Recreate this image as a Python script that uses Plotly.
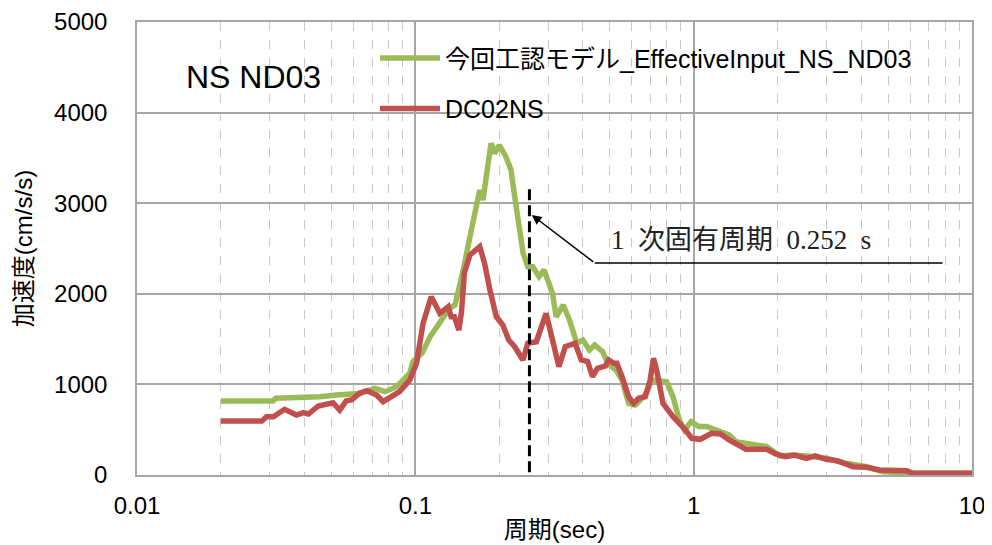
import plotly.graph_objects as go
import math

# 今回工認モデル (green)
green_t = [0.02, 0.0308, 0.0315, 0.04, 0.0454, 0.0521, 0.063, 0.0717, 0.0779, 0.0856, 0.0955,
           0.098, 0.106, 0.113, 0.1194, 0.1328, 0.1388, 0.1403, 0.1487, 0.1571, 0.1655, 0.1704,
           0.175, 0.180, 0.187, 0.1927, 0.2003, 0.2115, 0.2207, 0.2275, 0.238, 0.244, 0.2537,
           0.2643, 0.2784, 0.2901, 0.311, 0.3206, 0.340, 0.358, 0.3803, 0.3996, 0.4224, 0.441,
           0.471, 0.4907, 0.5258, 0.5529, 0.584, 0.6178, 0.670, 0.7086, 0.7995, 0.8428, 0.888,
           0.926, 0.9796, 1.045, 1.115, 1.23, 1.34, 1.42, 1.54, 1.83, 2.04, 2.25, 2.54, 3.0,
           3.53, 4.18, 4.78, 6.13, 10.0]
green_v = [817, 817, 847, 850, 864, 883, 900, 957, 920, 975, 1124,
           1250, 1350, 1527, 1637, 1840, 1876, 1932, 2263, 2630, 2999, 3146,
           3035, 3330, 3661, 3551, 3642, 3514, 3366, 3072, 2594, 2447, 2299,
           2299, 2189, 2263, 2005, 1747, 1876, 1711, 1454, 1490, 1380, 1435,
           1361, 1233, 1159, 1049, 791, 773, 883, 1049, 1030, 864, 607,
           497, 589, 534, 534, 479, 442, 368, 350, 313, 210, 221, 210, 184,
           129, 92, 37, 18, 18]

# DC02NS (red)
red_t = [0.02, 0.0281, 0.0292, 0.0309, 0.0339, 0.0374, 0.0396, 0.0413, 0.0448, 0.0493, 0.0506,
         0.0535, 0.0565, 0.059, 0.063, 0.0669, 0.0726, 0.0766, 0.082, 0.0878, 0.0955, 0.101,
         0.1066, 0.114, 0.1225, 0.1313, 0.1345, 0.138, 0.1434, 0.1465, 0.150, 0.1571, 0.1704,
         0.1773, 0.1853, 0.1954, 0.2061, 0.2166, 0.2275, 0.2436, 0.2537, 0.2721, 0.295, 0.311,
         0.328, 0.3457, 0.365, 0.375, 0.3946, 0.416, 0.4331, 0.4511, 0.4821, 0.4953, 0.5162,
         0.530, 0.5529, 0.584, 0.608, 0.634, 0.670, 0.698, 0.717, 0.736, 0.776, 0.843, 0.9349,
         0.985, 1.056, 1.16, 1.25, 1.34, 1.54, 1.83, 1.97, 2.14, 2.3, 2.54, 2.73, 3.0, 3.27,
         3.74, 4.18, 4.65, 5.82, 6.13, 10.0]
red_v = [596, 596, 643, 643, 725, 662, 688, 673, 762, 784, 798,
         717, 820, 828, 902, 931, 883, 809, 857, 920, 1049, 1233,
         1674, 1968, 1784, 1858, 1747, 1747, 1600, 1800, 2230, 2428, 2520,
         2337, 2042, 1747, 1656, 1490, 1416, 1269, 1454, 1471, 1784, 1490,
         1195, 1416, 1435, 1454, 1269, 1251, 1085, 1177, 1203, 1269, 1233,
         1233, 1085, 864, 791, 846, 864, 1049, 1288, 1159, 791, 643, 497,
         405, 394, 460, 452, 386, 284, 284, 232, 202, 221, 184, 210, 173, 158,
         92, 85, 55, 47, 18, 18]

period_mark = 0.257
period_y = [30, 3180]
note_text = "1\u2002次固有周期\u20020.252\u2002s"

x_ticks = [0.01, 0.1, 1, 10]
x_ticktext = ["0.01", "0.1", "1", "10"]
minor_vals = [m * 10 ** e for e in range(-2, 1) for m in range(2, 10)]

fnt = "Liberation Sans, Arial, Noto Sans CJK JP"

fig = go.Figure()
fig.add_trace(go.Scatter(x=green_t, y=green_v, mode="lines", name="今回工認モデル_EffectiveInput_NS_ND03",
                         line=dict(color="#9BBB59", width=5.5), legendgroup="g"))
fig.add_trace(go.Scatter(x=red_t, y=red_v, mode="lines", name="DC02NS",
                         line=dict(color="#C0504D", width=5.5), legendgroup="r"))
# 1次固有周期 line
fig.add_trace(go.Scatter(x=[period_mark, period_mark], y=period_y, mode="lines", showlegend=False,
                         line=dict(color="black", width=3, dash="11px,5px")))
# leader line under label
fig.add_trace(go.Scatter(x=[0.4413, 7.84], y=[2340, 2340], mode="lines", showlegend=False,
                         line=dict(color="black", width=1.5)))

fig.add_annotation(x=math.log10(0.262), y=2870, ax=math.log10(0.4413), ay=2340,
                   xref="x", yref="y", axref="x", ayref="y", text="", showarrow=True,
                   arrowhead=2, arrowsize=1.3, arrowwidth=1.5, arrowcolor="black")
fig.add_annotation(x=math.log10(1.475), y=2594, xref="x", yref="y", text=note_text, showarrow=False,
                   font=dict(family="Liberation Serif, Noto Sans CJK JP", size=27, color="#222"))
fig.add_annotation(x=math.log10(0.0263), y=4393, xref="x", yref="y", text="NS ND03", showarrow=False,
                   font=dict(family=fnt, size=32, color="black"))

# page body has an 8px margin, so the margins are set 8px smaller on the left/top
fig.update_layout(
    width=992, height=545,
    margin=dict(l=129, r=28, t=14, b=78),
    paper_bgcolor="white", plot_bgcolor="white",
    font=dict(family=fnt, size=24, color="black"),
    legend=dict(x=0.285, y=0.971, xanchor="left", yanchor="top", bgcolor="rgba(0,0,0,0)",
                font=dict(size=25), itemwidth=60, tracegroupgap=15),
)
fig.update_xaxes(type="log", range=[-2, 1], tickvals=x_ticks, ticktext=x_ticktext,
                 showgrid=True, gridcolor="#A6A6A6", gridwidth=1.5, automargin=False,
                 showline=True, linecolor="#A6A6A6", linewidth=1.5, mirror=True,
                 ticks="", ticklabelstandoff=8,
                 minor=dict(tickvals=minor_vals, showgrid=True, gridcolor="#C8C8C8",
                            griddash="dash", gridwidth=1.2),
                 title=dict(text="周期(sec)", font=dict(size=24), standoff=4), zeroline=False)
fig.update_yaxes(range=[0, 5000], dtick=1000, showgrid=True, gridcolor="#A6A6A6", gridwidth=1.5,
                 showline=True, linecolor="#A6A6A6", linewidth=1.5, mirror=True, automargin=False,
                 ticks="", ticklabelstandoff=23, zeroline=False,
                 title=dict(text="加速度(cm/s/s)", font=dict(size=24), standoff=15))

fig.write_html("out.html")
